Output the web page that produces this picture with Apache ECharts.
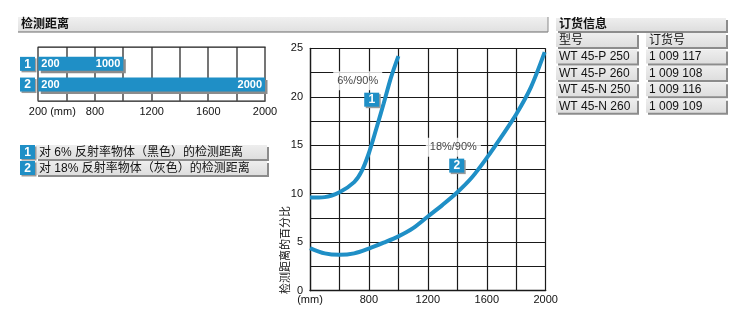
<!DOCTYPE html>
<html><head><meta charset="utf-8">
<script src="https://cdn.jsdelivr.net/npm/echarts@6/dist/echarts.min.js"></script>
<style>html,body{margin:0;padding:0;background:#fff}#c{width:752px;height:330px}</style>
</head><body><div id="c"></div>
<script>
// ---- data ----
const rangeRows = ['1', '2'];
const rangeStart = [200, 200];
const rangeEnd = [1000, 2000];
const barTickValues = [400, 600, 800, 1000, 1200, 1400, 1600, 1800, 2000];
const barTickLabels = ['200 (mm)', '', '800', '', '1200', '', '1600', '', '2000'];
const legendTexts = ['对 6% 反射率物体（黑色）的检测距离', '对 18% 反射率物体（灰色）的检测距离'];

const curve1Dist = [400, 500, 600, 700, 750, 800, 850, 900, 950, 1000];
const curve1Pct = [9.6, 9.65, 10.15, 11.2, 12.3, 14.2, 16.7, 19.3, 22.0, 24.2];
const curve2Dist = [400, 500, 600, 700, 800, 900, 1000, 1100, 1200, 1300, 1400, 1500, 1600, 1700, 1800, 1900, 1993];
const curve2Pct = [4.4, 3.85, 3.7, 3.85, 4.35, 4.95, 5.6, 6.45, 7.65, 8.85, 10.15, 11.7, 13.7, 15.9, 18.2, 21.0, 24.6];
const mainTickLabels = ['(mm)', '', '800', '', '1200', '', '1600', '', '2000'];
const yAxisName = '检测距离的百分比';
const noteX = [724, 1373];
const noteY = [21.65, 14.8];
const noteText = ['6%/90%', '18%/90%'];
const badgeX = [819, 1396];
const badgeY = [19.7, 12.9];
const badgeText = ['1', '2'];

const tableTitle = '订货信息';
const tableHead = ['型号', '订货号'];
const typeCol = ['WT 45-P 250', 'WT 45-P 260', 'WT 45-N 250', 'WT 45-N 260'];
const orderCol = ['1 009 117', '1 009 108', '1 009 116', '1 009 109'];
const sectionTitle = '检测距离';

// ---- style ----
const BLUE = '#1f8fc6';
const FONT = "'Liberation Sans', Arial, 'Noto Sans CJK SC', sans-serif";
const GRIDC = '#1a1a1a';

const chart = echarts.init(document.getElementById('c'), null, {renderer: 'canvas'});

function cell(x, y, w, h, text, bold) {
  return {
    type: 'group', children: [
      {type: 'rect', shape: {x: x + 2, y: y + 2, width: w, height: h}, style: {fill: '#8c8c8c'}},
      {type: 'rect', shape: {x: x, y: y, width: w, height: h},
        style: {fill: new echarts.graphic.LinearGradient(0, 0, 0, 1, [{offset: 0, color: '#eeeeee'}, {offset: 1, color: '#dedede'}])}},
      {type: 'text', x: x + 3, y: y + h / 2 + 0.5, style: {text: text, fill: '#111', font: (bold ? 'bold ' : '') + '12px ' + FONT, textVerticalAlign: 'middle'}}
    ]
  };
}
function badge(x, y, text) {
  return {
    type: 'group', children: [
      {type: 'rect', shape: {x: x + 1.5, y: y + 1.5, width: 15, height: 14}, style: {fill: '#9a9a9a'}},
      {type: 'rect', shape: {x: x, y: y, width: 15, height: 14}, style: {fill: BLUE}},
      {type: 'text', x: x + 7.5, y: y + 7.5, style: {text: text, fill: '#fff', font: 'bold 12px ' + FONT, textAlign: 'center', textVerticalAlign: 'middle'}}
    ]
  };
}

const graphics = [];
graphics.push({type: 'rect', shape: {x: 18, y: 17, width: 530, height: 15},
  style: {fill: new echarts.graphic.LinearGradient(0, 0, 0, 1, [{offset: 0, color: '#f0f0f0'}, {offset: 1, color: '#e0e0e0'}])}});
graphics.push({type: 'rect', shape: {x: 18, y: 31.4, width: 530, height: 1.2}, style: {fill: '#6a6a6a'}});
graphics.push({type: 'rect', shape: {x: 547.5, y: 17, width: 1, height: 15}, style: {fill: '#8a8a8a'}});
graphics.push({type: 'text', x: 21, y: 25, style: {text: sectionTitle, fill: '#111', font: 'bold 12px ' + FONT, textVerticalAlign: 'middle'}});
legendTexts.forEach((t, i) => {
  const y = 145 + i * 16;
  graphics.push(cell(36, y, 231, 14, t, false));
  graphics.push(badge(20, y, rangeRows[i]));
});
graphics.push(cell(556, 18, 170, 13, tableTitle, true));
graphics.push(cell(556, 33, 81, 14, tableHead[0], false));
graphics.push(cell(646, 33, 80, 14, tableHead[1], false));
typeCol.forEach((t, i) => {
  const y = 49.5 + i * 16.4;
  graphics.push(cell(556, y, 81, 14, t, false));
  graphics.push(cell(646, y, 80, 14, orderCol[i], false));
});
graphics.push({type: 'text', x: 286, y: 250, rotation: Math.PI / 2,
  style: {text: yAxisName, fill: '#111', font: '11px ' + FONT, textAlign: 'center', textVerticalAlign: 'middle'}});

const axisLabelBase = {color: '#111', fontSize: 11, fontFamily: FONT};

function renderRange(params, api) {
  const cs = params.coordSys;
  const children = [];
  if (params.dataIndex === 0) {
    barTickValues.forEach(v => {
      const x = Math.round(api.coord([v, 0])[0]);
      children.push({type: 'rect', shape: {x: x - 0.6, y: cs.y, width: 1.2, height: cs.height}, style: {fill: GRIDC}});
    });
    children.push({type: 'rect', shape: {x: cs.x - 0.6, y: Math.round(cs.y) - 0.6, width: cs.width + 1.2, height: 1.3}, style: {fill: GRIDC}});
    children.push({type: 'rect', shape: {x: cs.x - 0.6, y: Math.round(cs.y + cs.height) - 0.6, width: cs.width + 1.2, height: 1.3}, style: {fill: GRIDC}});
  }
  const row = api.value(2);
  const p0 = api.coord([api.value(0), row]);
  const p1 = api.coord([api.value(1), row]);
  const x0 = Math.max(p0[0], cs.x);
  const x1 = Math.min(p1[0], cs.x + cs.width);
  const h = 14, y = p0[1] - h / 2;
  const lab = {fill: '#fff', font: 'bold 11px ' + FONT, textVerticalAlign: 'middle'};
  children.push(
    {type: 'rect', shape: {x: x0 + 2.5, y: y + 2.5, width: x1 - x0, height: h}, style: {fill: '#8c8c8c'}},
    {type: 'rect', shape: {x: x0, y: y, width: x1 - x0, height: h}, style: {fill: BLUE}},
    {type: 'text', x: x0 + 3, y: y + h / 2 + 0.5, style: Object.assign({text: String(rangeStart[params.dataIndex]), textAlign: 'left'}, lab)},
    {type: 'text', x: x1 - 3, y: y + h / 2 + 0.5, style: Object.assign({text: String(rangeEnd[params.dataIndex]), textAlign: 'right'}, lab)},
    {type: 'rect', shape: {x: cs.x - 18.3 + 1.5, y: y + 1.5, width: 15, height: 14}, style: {fill: '#9a9a9a'}},
    {type: 'rect', shape: {x: cs.x - 18.3, y: y, width: 15, height: 14}, style: {fill: BLUE}},
    {type: 'text', x: cs.x - 10.8, y: y + 7.5, style: {text: rangeRows[params.dataIndex], fill: '#fff', font: 'bold 12px ' + FONT, textAlign: 'center', textVerticalAlign: 'middle'}}
  );
  return {type: 'group', children: children};
}

const option = {
  animation: false,
  backgroundColor: '#fff',
  graphic: graphics,
  grid: [
    {left: 310, top: 48.3, width: 235.7, height: 242.4},
    {left: 38.3, top: 47.3, width: 226.7, height: 53.4}
  ],
  xAxis: [
    {gridIndex: 0, type: 'value', min: 400, max: 2000, interval: 200,
      axisLine: {show: true, lineStyle: {color: GRIDC, width: 1.3}}, axisTick: {show: false},
      splitLine: {show: true, lineStyle: {color: GRIDC, width: 1.2}},
      axisLabel: Object.assign({}, axisLabelBase, {margin: 4, formatter: v => mainTickLabels[Math.round((v - 400) / 200)]})},
    {gridIndex: 1, type: 'value', min: 400, max: 2000, interval: 200,
      axisLine: {show: false, onZero: false}, axisTick: {show: false},
      splitLine: {show: false},
      axisLabel: Object.assign({}, axisLabelBase, {margin: 6,
        formatter: v => { const s = barTickLabels[Math.round((v - 400) / 200)]; return v === 400 ? '{f|' + s + '}' : s; },
        rich: {f: {fontSize: 11, fontFamily: FONT, color: '#111', padding: [0, 0, 0, 28]}}})}
  ],
  yAxis: [
    {gridIndex: 0, type: 'value', min: 0, max: 25, interval: 2.5,
      axisLine: {show: true, lineStyle: {color: GRIDC, width: 1.3}}, axisTick: {show: false},
      splitLine: {show: true, lineStyle: {color: GRIDC, width: 1.2}},
      axisLabel: Object.assign({}, axisLabelBase, {margin: 7, formatter: v => (v % 5 === 0 ? String(v) : '')})},
    {gridIndex: 1, type: 'value', min: -0.8, max: 1.78, inverse: true,
      axisLine: {show: false}, axisTick: {show: false}, splitLine: {show: false}, axisLabel: {show: false}}
  ],
  series: [
    {type: 'custom', xAxisIndex: 1, yAxisIndex: 1, clip: false, z: 3, silent: true,
      renderItem: renderRange,
      data: rangeRows.map((r, i) => [rangeStart[i], rangeEnd[i], i])},
    {type: 'line', xAxisIndex: 0, yAxisIndex: 0, smooth: 0.3, symbol: 'none', z: 5,
      lineStyle: {color: BLUE, width: 4}, data: curve1Dist.map((d, i) => [d, curve1Pct[i]])},
    {type: 'line', xAxisIndex: 0, yAxisIndex: 0, smooth: 0.3, symbol: 'none', z: 5,
      lineStyle: {color: BLUE, width: 4}, data: curve2Dist.map((d, i) => [d, curve2Pct[i]])},
    {type: 'scatter', xAxisIndex: 0, yAxisIndex: 0, symbolSize: 0, z: 6, silent: true,
      data: noteX.map((x, i) => [x, noteY[i]]),
      label: {show: true, position: 'inside', color: '#111', fontSize: 11, fontFamily: FONT, backgroundColor: '#fff', padding: [4, 4],
        formatter: p => noteText[p.dataIndex]}},
    {type: 'scatter', xAxisIndex: 0, yAxisIndex: 0, symbol: 'rect', symbolSize: [15, 14], z: 7, silent: true,
      itemStyle: {color: BLUE, shadowColor: '#9a9a9a', shadowOffsetX: 1.5, shadowOffsetY: 1.5, shadowBlur: 0, opacity: 1},
      data: badgeX.map((x, i) => [x, badgeY[i]]),
      label: {show: true, position: 'inside', color: '#fff', fontWeight: 'bold', fontSize: 12, fontFamily: FONT,
        formatter: p => badgeText[p.dataIndex]}}
  ]
};
chart.setOption(option);
</script></body></html>
